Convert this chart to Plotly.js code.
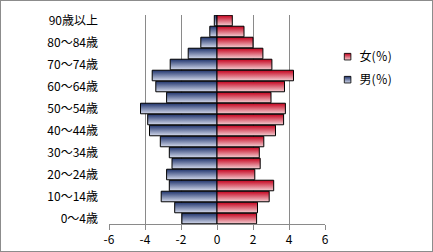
<!DOCTYPE html>
<html>
<head>
<meta charset="utf-8">
<script src="https://cdn.plot.ly/plotly-3.0.1.min.js"></script>
<style>
html,body{margin:0;padding:0;background:#fff;}
#wrap{position:relative;width:433px;height:252px;}
#chart{width:433px;height:252px;}
#frame{position:absolute;left:0;top:0;width:431px;height:250px;border:1px solid #8c8c8c;pointer-events:none;}
</style>
</head>
<body>
<div id="wrap"><div id="chart"></div><div id="frame"></div></div>
<script>
// age groups, bottom to top
const categories = ["0～4歳","5～9歳","10～14歳","15～19歳","20～24歳","25～29歳","30～34歳","35～39歳","40～44歳","45～49歳","50～54歳","55～59歳","60～64歳","65～69歳","70～74歳","75～79歳","80～84歳","85～89歳","90歳以上"];
// male share (%) shown as negative values
const maleValues = [-1.95,-2.35,-3.1,-2.65,-2.8,-2.5,-2.65,-3.15,-3.75,-3.85,-4.25,-2.8,-3.4,-3.6,-2.6,-1.6,-0.9,-0.4,-0.15];
// female share (%)
const femaleValues = [2.2,2.25,2.9,3.15,2.1,2.4,2.35,2.6,3.25,3.7,3.8,3.0,3.75,4.25,3.05,2.55,2.0,1.5,0.85];
const tickLabels = ["0～4歳","10～14歳","20～24歳","30～34歳","40～44歳","50～54歳","60～64歳","70～74歳","80～84歳","90歳以上"];
const xTicks = [-6,-4,-2,0,2,4,6];
const seriesNames = ["男(％)","女(％)"];

const tickVals = categories.filter((c,i)=>i%2===0);
const font = "'Noto Sans CJK JP', 'Noto Sans', sans-serif";

const traces = [
  {type:'bar', orientation:'h', name:seriesNames[0], y:categories, x:maleValues,
   marker:{color:'#6a7cae', line:{color:'#000', width:1}}, legendgroup:'m', legendrank:2},
  {type:'bar', orientation:'h', name:seriesNames[1], y:categories, x:femaleValues,
   marker:{color:'#dd5a68', line:{color:'#000', width:1}}, legendgroup:'f', legendrank:1}
];

const layout = {
  width:433, height:252,
  margin:{l:109, r:108, t:15, b:28},
  paper_bgcolor:'#fff', plot_bgcolor:'#fff',
  font:{family:font, size:12, color:'#000'},
  barmode:'overlay', bargap:0.04,
  showlegend:true,
  legend:{x:0.975, y:0.87, xanchor:'left', yanchor:'top', traceorder:'grouped',
          tracegroupgap:4, font:{family:font, size:12, color:'#000'}, bgcolor:'rgba(0,0,0,0)'},
  xaxis:{range:[-6,6], tickvals:xTicks, ticktext:xTicks.map(String), showgrid:true, gridcolor:'#8a8a8a', gridwidth:1,
         zeroline:false, showline:true, linecolor:'#8a8a8a', linewidth:1, ticks:'outside', ticklen:5,
         tickcolor:'#8a8a8a', tickfont:{family:font, size:12, color:'#000'}, fixedrange:true},
  yaxis:{type:'category', categoryorder:'array', categoryarray:categories, tickvals:tickVals, ticktext:tickLabels,
         showgrid:false, zeroline:false, showline:false, ticks:'', ticklabelstandoff:10,
         tickfont:{family:font, size:12, color:'#000'}, fixedrange:true}
};

Plotly.newPlot('chart', traces, layout, {displayModeBar:false, staticPlot:true}).then(function(gd){
  const svgNS = 'http://www.w3.org/2000/svg';
  const svg = gd.querySelector('svg.main-svg');
  let defs = svg.querySelector('defs');
  if(!defs){ defs = document.createElementNS(svgNS,'defs'); svg.insertBefore(defs, svg.firstChild); }
  function grad(id, c1, c2){
    const g = document.createElementNS(svgNS,'linearGradient');
    g.setAttribute('id', id); g.setAttribute('x1','0'); g.setAttribute('y1','0'); g.setAttribute('x2','0'); g.setAttribute('y2','1');
    [[0,c1],[1,c2]].forEach(function(s){
      const st = document.createElementNS(svgNS,'stop');
      st.setAttribute('offset', s[0]); st.setAttribute('stop-color', s[1]);
      g.appendChild(st);
    });
    defs.appendChild(g);
  }
  grad('gM', '#1f336c', '#d4daec');
  grad('gF', '#c4001c', '#f4d0d4');
  const ids = ['gM','gF'];
  gd.querySelectorAll('.barlayer .trace').forEach(function(t, i){
    t.querySelectorAll('path').forEach(function(p){ p.style.fill = 'url(#' + ids[i] + ')'; });
  });
  gd.querySelectorAll('.legend .traces').forEach(function(t){
    const name = t.textContent;
    const id = name.indexOf('男') >= 0 ? 'gM' : 'gF';
    t.querySelectorAll('.legendpoints path').forEach(function(p){
      p.style.fill = 'url(#' + id + ')';
      p.style.strokeWidth = '1.5px';
      p.setAttribute('transform', 'translate(28,0) scale(0.55)');
    });
  });
});
</script>
</body>
</html>
